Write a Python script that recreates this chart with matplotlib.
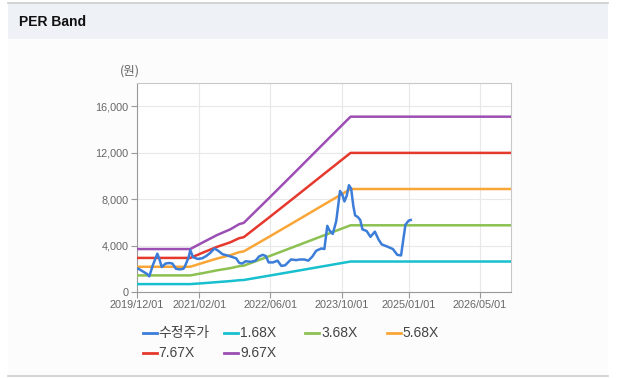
import matplotlib.pyplot as plt
import matplotlib.dates as mdates
import numpy as np
import pandas as pd
from matplotlib.lines import Line2D
from matplotlib.patches import Rectangle

plt.rcParams['font.family'] = ['Liberation Sans', 'Noto Sans CJK KR', 'DejaVu Sans']

# adjusted share price (수정주가)
price_dates = [
    '2019-12-01', '2019-12-20', '2020-01-15', '2020-02-10', '2020-02-25', '2020-03-20',
    '2020-04-20', '2020-05-05', '2020-05-20', '2020-06-15', '2020-07-10', '2020-08-01',
    '2020-08-25', '2020-09-20', '2020-10-15', '2020-10-25', '2020-11-20', '2020-12-01',
    '2020-12-20', '2021-01-20', '2021-02-20', '2021-03-20', '2021-04-15', '2021-05-15',
    '2021-06-10', '2021-07-10', '2021-08-10', '2021-09-05', '2021-10-10', '2021-11-01',
    '2021-11-20', '2021-12-15', '2022-01-20', '2022-02-20', '2022-03-15', '2022-04-10',
    '2022-05-01', '2022-05-20', '2022-06-20', '2022-07-20', '2022-08-15', '2022-09-10',
    '2022-10-20', '2022-11-25', '2022-12-20', '2023-01-20', '2023-02-15', '2023-03-15',
    '2023-04-10', '2023-05-15', '2023-06-05', '2023-06-25', '2023-07-10', '2023-08-01',
    '2023-08-25', '2023-09-20', '2023-10-05', '2023-10-20', '2023-11-05', '2023-11-20',
    '2023-12-05', '2023-12-20', '2024-01-01', '2024-01-20', '2024-02-05', '2024-02-20',
    '2024-03-20', '2024-04-15', '2024-05-15', '2024-06-10', '2024-07-01', '2024-08-10',
    '2024-09-15', '2024-10-15', '2024-11-10', '2024-11-25', '2024-12-10', '2025-01-01',
    '2025-01-15',
]
price = [
    2050, 1950, 1750, 1550, 1350, 2300,
    3300, 2800, 2150, 2450, 2500, 2450,
    2000, 1950, 2000, 2200, 3000, 3600,
    3000, 2850, 2900, 3100, 3350, 3750,
    3550, 3250, 3150, 3050, 2900, 2500,
    2450, 2650, 2600, 2700, 3050, 3200,
    3100, 2550, 2550, 2700, 2250, 2300,
    2800, 2750, 2800, 2800, 2700, 3050,
    3550, 3750, 3700, 5700, 5300, 5000,
    6100, 8700, 8400, 7800, 8300, 9200,
    8900, 7400, 6600, 6450, 6200, 5400,
    5250, 4750, 5200, 4500, 4100, 3900,
    3700, 3200, 3150, 4500, 5800, 6150,
    6200,
]

# PER band lines
band_dates = ['2019-12-01', '2020-12-01', '2021-03-01', '2021-06-01', '2021-09-01',
              '2021-11-01', '2021-12-01', '2022-06-01', '2022-12-01', '2023-06-01',
              '2023-12-01', '2026-12-01']
band_168 = [680, 680, 760, 851, 938, 1016, 1034, 1425, 1824, 2224, 2625, 2625]
band_368 = [1430, 1430, 1636, 1865, 2055, 2226, 2264, 3121, 3996, 4871, 5745, 5745]
band_568 = [2173, 2173, 2526, 2878, 3172, 3436, 3495, 4817, 6167, 7519, 8870, 8870]
band_767 = [2935, 2935, 3411, 3886, 4283, 4640, 4719, 6504, 8328, 10153, 11980, 11980]
band_967 = [3700, 3700, 4300, 4900, 5400, 5850, 5950, 8200, 10500, 12800, 15100, 15100]

labels = ['수정주가', '1.68X', '3.68X', '5.68X', '7.67X', '9.67X']
colors = ['#3b7dd8', '#17bfcf', '#8cc152', '#f9a637', '#e5392d', '#9b4fb3']

x_ticks = ['2019-12-01', '2021-02-01', '2022-06-01', '2023-10-01', '2025-01-01', '2026-05-01']

fig = plt.figure(figsize=(6.17, 3.78), dpi=100)
fig.patch.set_facecolor('white')

W, H = 617, 378
# panel background, header and border lines
fig.add_artist(Rectangle((8 / W, 1 - 376 / H), 600 / W, 337 / H, transform=fig.transFigure,
                         facecolor='#fcfcfc', edgecolor='none', zorder=-3))
fig.add_artist(Rectangle((8 / W, 1 - 39 / H), 600 / W, 36 / H, transform=fig.transFigure,
                         facecolor='#eef1f6', edgecolor='none', zorder=-2))
fig.add_artist(Line2D([8 / W, 608 / W], [1 - 3 / H] * 2, transform=fig.transFigure,
                      color='#cccccc', lw=1.2))
fig.add_artist(Line2D([8 / W, 608 / W], [1 - 376 / H] * 2, transform=fig.transFigure,
                      color='#cccccc', lw=1.2))
fig.text(19 / W, 1 - 22 / H, 'PER Band', fontsize=10, fontweight='bold',
         color='#111111', va='center', ha='left')

ax = fig.add_axes([136.7 / W, 1 - 292 / H, (511 - 136.7) / W, (292 - 83) / H])
ax.set_facecolor('white')

bd = pd.to_datetime(band_dates)
pd_dates = pd.to_datetime(price_dates)
bands = [band_168, band_368, band_568, band_767, band_967]

for vals, c in zip(bands, colors[1:]):
    ax.plot(bd, vals, color=c, lw=1.8, zorder=3)
ax.plot(pd_dates, price, color=colors[0], lw=1.8, zorder=4)

ax.set_xlim(pd.Timestamp('2019-12-01'), pd.Timestamp('2026-12-01'))
ax.set_ylim(0, 18000)
ax.set_yticks(np.arange(0, 16001, 4000))
ax.yaxis.set_major_formatter(plt.FuncFormatter(lambda v, p: f'{int(v):,}'))
ax.set_xticks(pd.to_datetime(x_ticks))
ax.xaxis.set_major_formatter(mdates.DateFormatter('%Y/%m/%d'))

ax.grid(True, color='#e8e8e8', lw=0.8)
ax.set_axisbelow(True)
for s in ax.spines.values():
    s.set_color('#c8c8c8')
    s.set_linewidth(0.8)
ax.spines['left'].set_color('#999999')
ax.spines['bottom'].set_color('#999999')
ax.tick_params(axis='both', colors='#999999', length=4, width=0.8,
               labelsize=7.8, labelcolor='#666666', pad=2)

fig.text(130 / W, 1 - 71 / H, '(원)', fontsize=9, color='#666666', ha='center', va='center',
         family=['Noto Sans CJK KR', 'DejaVu Sans'])

# legend drawn by hand to match fixed column spacing
leg_pos = [(142.7, 333), (224, 333), (305, 333), (386.7, 333), (142.7, 353), (224, 353)]
for (lx, ly), lab, c in zip(leg_pos, labels, colors):
    fig.add_artist(Line2D([lx / W, (lx + 14) / W], [1 - ly / H] * 2,
                          transform=fig.transFigure, color=c, lw=2))
    fam = ['Noto Sans CJK KR', 'DejaVu Sans'] if lab == labels[0] else ['Liberation Sans']
    fig.text((lx + 16) / W, 1 - ly / H, lab, fontsize=10, color='#444444',
             ha='left', va='center', family=fam)

fig.savefig('out.png', dpi=100, facecolor=fig.get_facecolor())
